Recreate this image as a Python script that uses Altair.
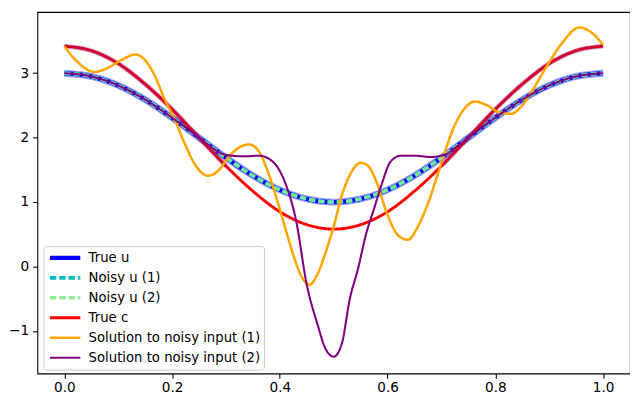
import altair as alt
import pandas as pd

SERIES = ["True u", "Noisy u (1)", "Noisy u (2)", "True c",
          "Solution to noisy input (1)", "Solution to noisy input (2)"]
COLORS = ["#0000ff", "#00bfbf", "#90ee90", "#ff0000", "#ffa500", "#800080"]
DASHES = [[1, 0], [6.5, 3], [6.5, 3], [1, 0], [1, 0], [1, 0]]
WIDTHS = [4.4, 2.1, 2.1, 4.8, 1.2, 1.2]

# smooth curves (read at 0.05 steps)
X_SMOOTH = [0.0, 0.05, 0.1, 0.15, 0.2, 0.25, 0.3, 0.35, 0.4, 0.45, 0.5,
            0.55, 0.6, 0.65, 0.7, 0.75, 0.8, 0.85, 0.9, 0.95, 1.0]
U_VALS = [3.00, 2.95, 2.81, 2.59, 2.31, 2.00, 1.69, 1.41, 1.19, 1.05, 1.00,
          1.05, 1.19, 1.41, 1.69, 2.00, 2.31, 2.59, 2.81, 2.95, 3.00]
C_VALS = [3.42, 3.35, 3.15, 2.83, 2.44, 2.00, 1.56, 1.17, 0.85, 0.65, 0.58,
          0.65, 0.85, 1.17, 1.56, 2.00, 2.44, 2.83, 3.15, 3.35, 3.42]

# solution to noisy input (1) - orange
O_X = [0.0, 0.025, 0.056, 0.08, 0.105, 0.132, 0.15, 0.168, 0.186, 0.204,
       0.225, 0.245, 0.267, 0.285, 0.305, 0.325, 0.343, 0.36, 0.377, 0.395,
       0.41, 0.425, 0.44, 0.455, 0.47, 0.485, 0.5, 0.515, 0.53, 0.55,
       0.565, 0.58, 0.6, 0.62, 0.638, 0.655, 0.675, 0.69, 0.705, 0.72,
       0.74, 0.762, 0.785, 0.805, 0.829, 0.85, 0.87, 0.9, 0.925, 0.956,
       0.98, 1.0]
O_Y = [3.42, 3.17, 3.02, 3.08, 3.20, 3.29, 3.20, 2.96, 2.60, 2.30,
       1.88, 1.55, 1.41, 1.48, 1.70, 1.85, 1.895, 1.80, 1.49, 1.03,
       0.60, 0.18, -0.15, -0.284, -0.12, 0.22, 0.62, 1.10, 1.42, 1.61,
       1.55, 1.30, 0.80, 0.48, 0.415, 0.60, 0.98, 1.35, 1.74, 2.10,
       2.42, 2.56, 2.50, 2.40, 2.37, 2.50, 2.75, 3.17, 3.48, 3.71,
       3.62, 3.44]

# solution to noisy input (2) - purple
P_X = [0.0, 0.05, 0.1, 0.15, 0.2, 0.25, 0.275, 0.29, 0.31, 0.335, 0.362,
       0.38, 0.395, 0.41, 0.43, 0.45, 0.47, 0.485, 0.5, 0.515, 0.53, 0.545,
       0.56, 0.575, 0.59, 0.605, 0.625, 0.65, 0.68, 0.708, 0.725, 0.75,
       0.8, 0.85, 0.9, 0.95, 1.0]
P_Y = [3.00, 2.95, 2.81, 2.59, 2.31, 2.00, 1.84, 1.76, 1.72, 1.71, 1.72,
       1.67, 1.55, 1.30, 0.72, -0.28, -0.90, -1.28, -1.40, -1.20, -0.50, -0.04,
       0.50, 0.90, 1.30, 1.62, 1.72, 1.72, 1.70, 1.74, 1.84, 2.00,
       2.31, 2.59, 2.81, 2.95, 3.00]

rows = []
for s in ["True u", "Noisy u (1)", "Noisy u (2)"]:
    rows += [{"x": x, "y": y, "series": s} for x, y in zip(X_SMOOTH, U_VALS)]
rows += [{"x": x, "y": y, "series": "True c"} for x, y in zip(X_SMOOTH, C_VALS)]
rows += [{"x": x, "y": y, "series": SERIES[4]} for x, y in zip(O_X, O_Y)]
rows += [{"x": x, "y": y, "series": SERIES[5]} for x, y in zip(P_X, P_Y)]
df = pd.DataFrame(rows)

XS = alt.Scale(domain=[-0.05, 1.05], nice=False, zero=False)
YS = alt.Scale(domain=[-1.66, 3.95], nice=False, zero=False)

LEG = alt.Legend(
    title=None, orient="none", legendX=6.3, legendY=239,
    symbolType="stroke", symbolSize=961, symbolOffset=1,
    labelFont="DejaVu Sans", labelFontSize=13.5, labelColor="#000000",
    labelOffset=6, labelLimit=400, clipHeight=18,
    fillColor="rgba(255,255,255,0.8)", strokeColor="#cccccc",
    cornerRadius=3, padding=3, rowPadding=2.4,
)

xenc = alt.X("x:Q", scale=XS, axis=alt.Axis(values=[0, 0.2, 0.4, 0.6, 0.8, 1.0], format=".1f", title=None))
yenc = alt.Y("y:Q", scale=YS, axis=alt.Axis(values=[-1, 0, 1, 2, 3], format="d", title=None,
                                            minExtent=29, maxExtent=29))


def styled(series, opacity=1.0):
    return alt.Chart(df).transform_filter(alt.datum.series == series).mark_line(
        interpolate="monotone", opacity=opacity
    ).encode(
        x=xenc, y=yenc,
        color=alt.Color("series:N", scale=alt.Scale(domain=SERIES, range=COLORS), legend=LEG),
        strokeDash=alt.StrokeDash("series:N", scale=alt.Scale(domain=SERIES, range=DASHES), legend=LEG),
        strokeWidth=alt.StrokeWidth("series:N", scale=alt.Scale(domain=SERIES, range=WIDTHS), legend=LEG),
    )


halo = alt.Chart(df).transform_filter(alt.datum.series == "True u").mark_line(
    interpolate="monotone", color="#0000ff", strokeWidth=7, opacity=0.4
).encode(x=xenc, y=yenc)

crimson = alt.Chart(df).transform_filter(
    (alt.datum.series == "True c") & ((alt.datum.x <= 0.3) | (alt.datum.x >= 0.7))
).transform_calculate(part="datum.x < 0.5 ? 0 : 1").mark_line(
    interpolate="monotone", color="#800080", strokeWidth=4.8, opacity=0.35
).encode(x=xenc, y=yenc, detail="part:N")

chart = alt.layer(
    halo,
    styled("True u"),
    styled("Noisy u (1)"),
    styled("Noisy u (2)", 0.85),
    styled("True c"),
    crimson,
    styled(SERIES[4]),
    styled(SERIES[5]),
).properties(
    width=605, height=369,
    padding={"left": 0, "top": 0, "right": 0, "bottom": 0},
).configure_view(
    stroke="#000000", strokeWidth=1.1
).configure_axis(
    grid=False, domain=False, tickColor="#000000", tickSize=4.9, tickWidth=1.1,
    labelColor="#000000", labelFont="DejaVu Sans", labelFontSize=13.9,
    labelPadding=4,
).configure_axisX(labelPadding=3)

chart.save("out.html", embed_options={"renderer": "svg", "actions": False})
